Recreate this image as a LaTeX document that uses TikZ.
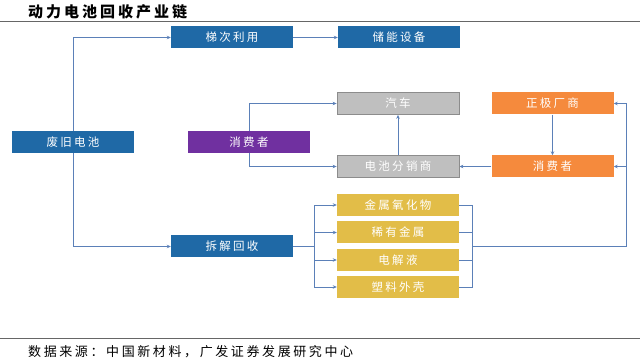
\documentclass[tikz,border=0pt]{standalone}
\usepackage{fontspec}
\setmainfont{Liberation Serif}
\newfontfamily\cjk[LetterSpace=20]{Noto Sans CJK SC}
\usetikzlibrary{arrows.meta,backgrounds}
\definecolor{bblue}{HTML}{1F69A6}
\definecolor{bpurple}{HTML}{7030A0}
\definecolor{bgray}{HTML}{BFBFBF}
\definecolor{bgrayd}{HTML}{8C8C8C}
\definecolor{borange}{HTML}{F58A3D}
\definecolor{byellow}{HTML}{E2BD48}
\definecolor{lnc}{HTML}{5B80B8}
\tikzset{
  box/.style={minimum width=122pt,minimum height=22pt,inner sep=0pt,text=white,font=\cjk\fontsize{11.5}{13}\selectfont},
  bluebox/.style={box,fill=bblue},
  purplebox/.style={box,fill=bpurple},
  graybox/.style={box,fill=bgray,draw=bgrayd,line width=0.8pt},
  orangebox/.style={box,fill=borange},
  yellowbox/.style={box,fill=byellow},
  conn/.style={draw=lnc,line width=0.8pt},
  arr/.style={conn,-{Stealth[length=4pt,width=3.5pt]}}
}
\begin{document}
\begin{tikzpicture}[x=1pt,y=-1pt]
\useasboundingbox (0,0) rectangle (640,363);
\node[anchor=west,font=\cjk\bfseries\fontsize{15}{17}\selectfont,inner sep=0pt] (title) at (28,12) {动力电池回收产业链};
\draw[line width=1pt,color=gray!80!black] (0,22) -- (640,22);
\draw[line width=1pt,color=gray!80!black] (0,339) -- (640,339);
\node[anchor=west,font=\cjk\fontsize{13}{15}\selectfont,inner sep=0pt] (src) at (28,352) {数据来源：中国新材料，广发证券发展研究中心};

\node[bluebox] (tici) at (232,37.5) {梯次利用};
\node[bluebox] (chuneng) at (399,37.5) {储能设备};
\node[bluebox] (waste) at (73,142) {废旧电池};
\node[purplebox] (xfz1) at (249,142) {消费者};
\node[graybox] (qiche) at (398,103.5) {汽车};
\node[graybox] (fenxiao) at (398,166.5) {电池分销商};
\node[orangebox] (zj) at (552.5,103.5) {正极厂商};
\node[orangebox] (xfz2) at (552.5,166.5) {消费者};
\node[yellowbox] (y1) at (398,205) {金属氧化物};
\node[yellowbox] (y2) at (398,232.5) {稀有金属};
\node[yellowbox] (y3) at (398,260) {电解液};
\node[yellowbox] (y4) at (398,287) {塑料外壳};
\node[bluebox] (chai) at (232,246.5) {拆解回收};

\begin{scope}[on background layer]
\draw[arr] (waste.center) |- (tici.west);
\draw[arr] (waste.center) |- (chai.west);
\draw[arr] (tici.east) -- (chuneng.west);
\draw[arr] (xfz1.center) |- (qiche.west);
\draw[arr] (xfz1.center) |- (fenxiao.west);
\draw[arr] (fenxiao.north) -- (qiche.south);
\draw[arr] (zj.south) -- (xfz2.north);
\draw[arr] (xfz2.west) -- (fenxiao.east);
\coordinate (s) at (314,246.5);
\draw[conn] (chai.east) -- (s);
\draw[arr] (s) |- (y1.west);
\draw[arr] (s) |- (y2.west);
\draw[arr] (s) |- (y3.west);
\draw[arr] (s) |- (y4.west);
\coordinate (r1) at (472,205);
\coordinate (r4) at (472,287);
\coordinate (r) at (472,246.5);
\coordinate (R) at (626,246.5);
\draw[conn] (y1.east) -- (r1) -- (r4) -- (y4.east);
\draw[conn] (y2.east) -- (r1 |- y2.east);
\draw[conn] (y3.east) -- (r1 |- y3.east);
\draw[arr] (r) -- (R) |- (zj.east);
\draw[arr] (R |- xfz2.east) -- (xfz2.east);
\end{scope}
\end{tikzpicture}
\end{document}
